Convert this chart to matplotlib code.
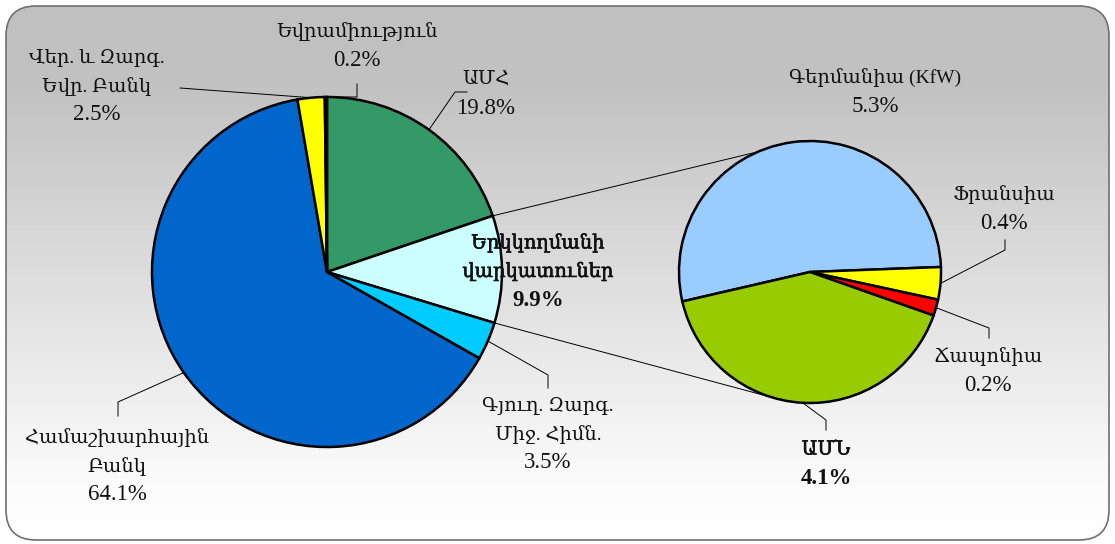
import numpy as np
import matplotlib.pyplot as plt
import matplotlib.patheffects as pe
from matplotlib.patches import FancyBboxPatch
from matplotlib.colors import LinearSegmentedColormap

plt.switch_backend('Agg')

W, H = 1115, 544

# main pie, clockwise from the top
main_labels = ['ԱՄՀ', 'Երկկողմանի\nվարկատուներ', 'Գյուղ. Զարգ.\nՄիջ. Հիմն.',
               'Համաշխարհային\nԲանկ', 'Վեր. և Զարգ.\nԵվր. Բանկ', 'Եվրամիություն']
main_values = [19.8, 9.9, 3.5, 64.1, 2.5, 0.2]
main_colors = ['#339966', '#CCFFFF', '#00CCFF', '#0066CC', '#FFFF00', '#000000']

# secondary pie (breakdown of bilateral lenders)
sub_labels = ['Գերմանիա (KfW)', 'Ֆրանսիա', 'Ճապոնիա', 'ԱՄՆ']
sub_values = [5.3, 0.4, 0.2, 4.1]
sub_colors = ['#99CCFF', '#FFFF00', '#FF0000', '#99CC00']

FONT = ['Liberation Serif', 'DejaVu Serif Condensed', 'DejaVu Serif']


def Y(y):
    # pixel row (top down) -> data y (bottom up)
    return H - y


fig = plt.figure(figsize=(W / 100, H / 100), dpi=100)
ax = fig.add_axes([0, 0, 1, 1])

# rounded frame with grey -> white gradient
frame = FancyBboxPatch((6, Y(540)), 1103, 534, boxstyle="round,pad=0,rounding_size=30",
                       facecolor='none', edgecolor='#707070', linewidth=1.2, zorder=1)
ax.add_patch(frame)
grad = np.linspace(0, 1, 256).reshape(-1, 1)
cmap = LinearSegmentedColormap.from_list('bg', [(0, '#C0C0C0'), (0.15, '#C2C2C2'),
                                                (0.9, '#FCFCFC'), (1, '#FFFFFF')])
img = ax.imshow(grad, extent=[6, 1109, Y(540), Y(6)], cmap=cmap, aspect='auto',
                origin='upper', zorder=0)
img.set_clip_path(frame)

c1, r1 = (327, Y(272)), 175
c2, r2 = (810, Y(272)), 131
wp = dict(edgecolor='black', linewidth=1.8)

w1, _ = ax.pie(main_values, colors=main_colors, startangle=90, counterclock=False,
               center=c1, radius=r1, wedgeprops=wp, frame=True)
w2, _ = ax.pie(sub_values, colors=sub_colors, startangle=193, counterclock=False,
               center=c2, radius=r2, wedgeprops=wp, frame=True)
for w in list(w1) + list(w2):
    w.set_zorder(3)


def edge(wedge, c, r):
    a = np.deg2rad((wedge.theta1 + wedge.theta2) / 2)
    return c[0] + r * np.cos(a), c[1] + r * np.sin(a)


# connector lines between bilateral slice and the secondary pie
bil = w1[1]
for ang1, ang2 in [(bil.theta2, 113.3), (bil.theta1, -104.0)]:
    a1, a2 = np.deg2rad(ang1), np.deg2rad(ang2)
    ax.plot([c1[0] + r1 * np.cos(a1), c2[0] + r2 * np.cos(a2)],
            [c1[1] + r1 * np.sin(a1), c2[1] + r2 * np.sin(a2)],
            color='black', linewidth=0.7, zorder=2)

# label x centre, first line y, leader elbow points (pixels)
main_pos = [(486, 80), (538, 243), (548, 406), (117, 438), (97, 58), (357, 32)]
main_lead = [[(455, 92), (467, 92)], None, [(548, 375), (548, 388)],
             [(118, 402), (118, 416)], [(180, 88)], [(357, 97), (357, 84)]]
main_bold = [False, True, False, False, False, False]

sub_pos = [(875, 78), (1004, 195), (988, 357), (826, 450)]
sub_lead = [None, [(1005, 250), (1005, 240)], [(989, 328), (989, 338)],
            [(826, 420), (826, 430)]]
sub_bold = [False, False, False, True]

STEP = 28.5


def put_labels(wedges, c, r, labels, values, pos, leads, bold):
    for w, lab, v, p, ld, b in zip(wedges, labels, values, pos, leads, bold):
        lines = lab.split('\n')
        fx = [pe.withStroke(linewidth=0.4, foreground='black')] if b else None
        for i, line in enumerate(lines):
            ax.text(p[0], Y(p[1] + i * STEP), line, ha='center', va='center',
                    fontsize=14, family=FONT, color='#111111', zorder=5,
                    path_effects=fx)
        ax.text(p[0], Y(p[1] + len(lines) * STEP), f"{v:.1f}%", ha='center',
                va='center', fontsize=16.5, family=FONT, color='#111111', zorder=5,
                fontweight='bold' if b else 'normal')
        if ld:
            x0, y0 = edge(w, c, r)
            xs = [x0] + [q[0] for q in ld]
            ys = [y0] + [Y(q[1]) for q in ld]
            ax.plot(xs, ys, color='black', linewidth=0.7, zorder=4)


put_labels(w1, c1, r1, main_labels, main_values, main_pos, main_lead, main_bold)
put_labels(w2, c2, r2, sub_labels, sub_values, sub_pos, sub_lead, sub_bold)

ax.set_xlim(0, W)
ax.set_ylim(0, H)
ax.set_aspect('auto')
ax.set_axis_off()

fig.savefig('out.png', dpi=100)
